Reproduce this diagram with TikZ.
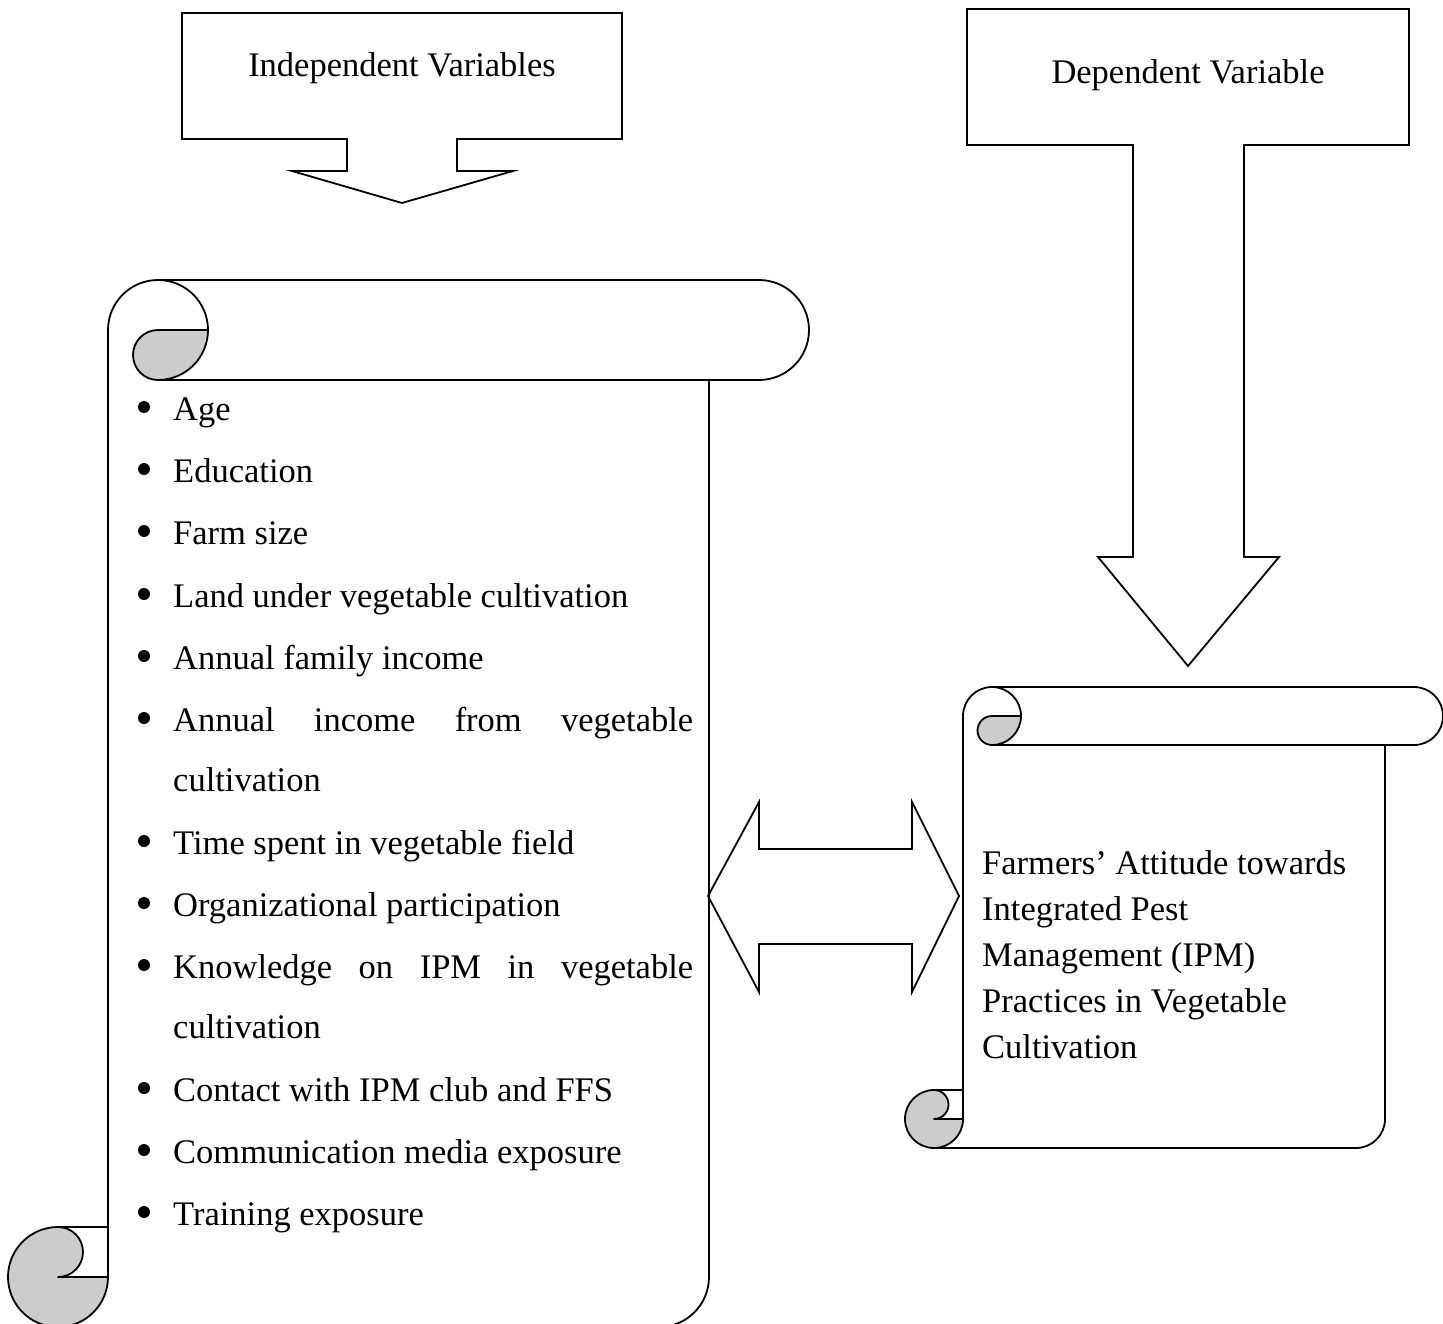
\documentclass[tikz,border=0pt]{standalone}
\usepackage{fontspec}
\setmainfont{Liberation Serif}
\newcommand\drawscroll[5]{%
  % #1=L, #2=T, #3=R, #4=B, #5=r
  \draw[scrollline] (#1,{#2+#5}) arc[start angle=180,end angle=360,radius=#5];
  \draw[scrollline] ({#1+#5},#2) -- ({#3+#5},#2) arc[start angle=270,end angle=450,radius=#5] -- ({#1+#5},{#2+2*#5});
  \draw[scrollline,curlfill] ({#1+#5},{#2+#5}) -- ({#1+2*#5},{#2+#5}) arc[start angle=0,end angle=90,radius=#5]
     arc[start angle=90,end angle=270,radius={#5/2}] -- cycle;
  \draw[scrollline] (#1,{#2+#5}) -- (#1,{#4-#5});
  \draw[scrollline] (#3,{#2+2*#5}) -- (#3,{#4-#5}) arc[start angle=0,end angle=90,radius=#5] -- ({#1-#5},#4);
  \draw[scrollline,curlfill] ({#1-#5},{#4-2*#5}) arc[start angle=270,end angle=0,radius=#5] -- ({#1-#5},{#4-#5})
     arc[start angle=90,end angle=-90,radius={#5/2}] -- cycle;
  \draw[scrollline] ({#1-#5},{#4-2*#5}) -- (#1,{#4-2*#5});
}
\begin{document}
\begin{tikzpicture}[x=1pt,y=-1pt,
  scrollline/.style={line width=1.8pt,line join=round},
  curlfill/.style={fill=black!20},
  shapeline/.style={line width=1.8pt,line join=miter},
  txt/.style={inner sep=0pt,anchor=base west,font=\fontsize{34.5}{41}\selectfont},
  ctxt/.style={inner sep=0pt,anchor=base,font=\fontsize{34.5}{41}\selectfont},
  bul/.style={circle,fill=black,inner sep=0pt,minimum size=12pt}]
\useasboundingbox (0,0) rectangle (1443,1324);
\clip (0,0) rectangle (1443,1324);
\fill[white] (0,0) rectangle (1443,1324);

% callouts
\draw[shapeline] (182,13) -- (622,13) -- (622,139) -- (457,139) -- (457,171) -- (513,171) -- (402,203)
  -- (292,171) -- (347,171) -- (347,139) -- (182,139) -- cycle;
\node[ctxt] (indep) at (402,77) {Independent Variables};
\draw[shapeline] (967,9) -- (1409,9) -- (1409,145) -- (1244,145) -- (1244,557) -- (1279,557) -- (1188,666)
  -- (1098,557) -- (1133,557) -- (1133,145) -- (967,145) -- cycle;
\node[ctxt] (dep) at (1188,84) {Dependent Variable};

% scrolls
\drawscroll{108}{280}{709}{1327}{50}
\drawscroll{963}{687}{1385}{1148}{29}

% double arrow
\draw[shapeline] (708,896) -- (759,802) -- (759,849) -- (912,849) -- (912,802) -- (959,896)
  -- (912,992) -- (912,944) -- (759,944) -- (759,992) -- cycle;

% list
\foreach \n/\y in {b1/420,b2/482,b3/544,b4/607,b5/669,b6/731,b7/854,b8/916,b9/978,b10/1101,b11/1163,b12/1225}
  \node[bul] (\n) at (144,\y-13) {};
\node[txt] (age) at (173,420) {Age};
\node[txt] (edu) at (173,482) {Education};
\node[txt] (farm) at (173,544) {Farm size};
\node[txt] (land) at (173,607) {Land under vegetable cultivation};
\node[txt] (afi) at (173,669) {Annual family income};
\node[txt] (aiv) at (173,731) {\makebox[520pt][s]{Annual\hfill income\hfill from\hfill vegetable}};
\node[txt] (aiv2) at (173,791) {cultivation};
\node[txt] (time) at (173,854) {Time spent in vegetable field};
\node[txt] (org) at (173,916) {Organizational participation};
\node[txt] (know) at (173,978) {\makebox[520pt][s]{Knowledge\hfill on\hfill IPM\hfill in\hfill vegetable}};
\node[txt] (know2) at (173,1038) {cultivation};
\node[txt] (contact) at (173,1101) {Contact with IPM club and FFS};
\node[txt] (comm) at (173,1163) {Communication media exposure};
\node[txt] (train) at (173,1225) {Training exposure};

% right text
\node[txt] (r1) at (982,874) {Farmers’ Attitude towards};
\node[txt] (r2) at (982,920) {Integrated Pest};
\node[txt] (r3) at (982,966) {Management (IPM)};
\node[txt] (r4) at (982,1012) {Practices in Vegetable};
\node[txt] (r5) at (982,1058) {Cultivation};
\end{tikzpicture}
\end{document}
